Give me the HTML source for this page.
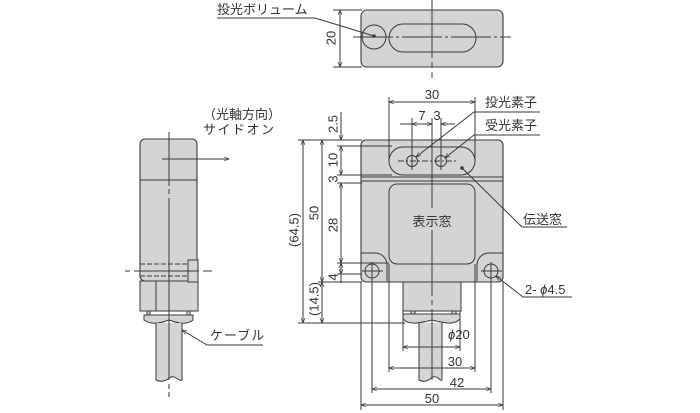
<!DOCTYPE html>
<html><head><meta charset="utf-8">
<style>
html,body{margin:0;padding:0;background:#fff;}
svg{display:block;}
text{font-family:"Liberation Sans","Noto Sans CJK JP",sans-serif;font-size:13px;fill:#333;}
</style></head>
<body>
<svg width="700" height="413" viewBox="0 0 700 413" xmlns="http://www.w3.org/2000/svg">
<defs>
<marker id="a" viewBox="0 0 10 10" refX="10" refY="5" markerWidth="7" markerHeight="5" orient="auto-start-reverse" markerUnits="userSpaceOnUse"><path d="M0,1 L10,5 L0,9" fill="none" stroke="#333" stroke-width="1.3"/></marker>
</defs>
<g stroke="#3a3a3a" stroke-width="1" fill="none">

<!-- ===== TOP VIEW ===== -->
<rect x="361" y="10" width="142" height="57" rx="6" fill="#d4d4d4" stroke-width="1.1"/>
<circle cx="374" cy="37" r="12"/>
<rect x="389" y="24" width="87" height="28" rx="14"/>
<line x1="432" y1="0" x2="432" y2="58"/>
<line x1="432" y1="62" x2="432" y2="80" stroke-dasharray="6,4"/>
<line x1="353" y1="37" x2="511" y2="37" stroke-dasharray="40,3,3,3"/>
<!-- dim 20 -->
<line x1="333" y1="10" x2="362" y2="10"/>
<line x1="333" y1="67" x2="362" y2="67"/>
<line x1="340" y1="10" x2="340" y2="67" marker-start="url(#a)" marker-end="url(#a)"/>
<!-- leader -->
<polyline points="217,18 315,18 374,36"/>
<circle cx="374" cy="36" r="1.3" fill="#333"/>

<!-- ===== SIDE VIEW ===== -->
<rect x="140" y="139" width="57" height="142" rx="5" fill="#d4d4d4" stroke-width="1.1"/>
<line x1="140" y1="180" x2="197" y2="180"/>
<rect x="140" y="281" width="58" height="30" fill="#d4d4d4"/>
<line x1="156" y1="281" x2="156" y2="311"/>
<rect x="188" y="260" width="10" height="22" fill="#d4d4d4"/>
<line x1="140" y1="264" x2="188" y2="264" stroke-dasharray="5,2"/>
<line x1="140" y1="276" x2="188" y2="276" stroke-dasharray="5,2"/>
<line x1="125" y1="271" x2="212" y2="271" stroke-dasharray="5,4,60,0"/>
<rect x="147" y="311" width="3" height="4" fill="#d4d4d4"/>
<rect x="187" y="311" width="3" height="4" fill="#d4d4d4"/>
<path d="M144,315 H193 V320 Q188,324 180,323 Q174,322 169,320 Q164,322 158,323 Q150,324 144,320 Z" fill="#d4d4d4"/>
<path d="M156,323 V380 Q162,383 168,379 Q172,375 176,378 Q180,381 182,380 V323" fill="#d4d4d4"/>
<line x1="169" y1="132" x2="169" y2="186"/>
<line x1="169" y1="189" x2="169" y2="194"/>
<line x1="169" y1="198" x2="169" y2="380"/>
<line x1="169" y1="384" x2="169" y2="397" stroke-dasharray="5,3"/>
<line x1="162" y1="159" x2="229" y2="159" marker-end="url(#a)"/>
<!-- cable leader -->
<polyline points="263,345 207,345 182,330" marker-end="url(#a)"/>

<!-- ===== FRONT VIEW ===== -->
<rect x="361" y="140" width="142" height="142" rx="5" fill="#d4d4d4" stroke-width="1.1"/>
<rect x="389" y="147" width="86" height="28" rx="14"/>
<line x1="361" y1="177" x2="503" y2="177"/>
<line x1="361" y1="181" x2="503" y2="181"/>
<rect x="389" y="184" width="86" height="80" rx="8"/>
<path d="M361,253 H375 A12,12 0 0 1 387,265 V282"/>
<path d="M503,253 H489 A12,12 0 0 0 477,265 V282"/>
<circle cx="372" cy="271" r="7"/>
<circle cx="491" cy="271" r="7"/>
<line x1="362" y1="271" x2="383" y2="271"/>
<line x1="481" y1="271" x2="502" y2="271"/>
<circle cx="412" cy="161" r="5.5"/>
<circle cx="441" cy="161" r="5.5"/>
<line x1="398" y1="161" x2="456" y2="161" stroke-dasharray="6,2,2,2"/>
<circle cx="462" cy="168" r="1.3" fill="#333"/>
<!-- connector -->
<rect x="403" y="282" width="58" height="29" fill="#d4d4d4"/>
<rect x="411" y="311" width="4" height="3" fill="#d4d4d4"/>
<rect x="452" y="311" width="4" height="3" fill="#d4d4d4"/>
<path d="M403,314 H460 V319 Q455,324 447,323 Q439,322 432,320 Q425,322 417,323 Q408,324 403,319 Z" fill="#d4d4d4"/>
<path d="M419,323 V380 Q425,383 430,379 Q434,375 438,378 Q441,381 442,380 V323" fill="#d4d4d4"/>
<!-- centerline -->
<line x1="432" y1="118" x2="432" y2="208"/>
<line x1="432" y1="230" x2="432" y2="296"/>
<line x1="432" y1="300" x2="432" y2="305"/>
<line x1="432" y1="309" x2="432" y2="380"/>

<!-- extension lines top -->
<line x1="389" y1="97" x2="389" y2="160"/>
<line x1="475" y1="97" x2="475" y2="160"/>
<line x1="412" y1="118" x2="412" y2="170"/>
<line x1="441" y1="118" x2="441" y2="170"/>
<!-- dims top -->
<line x1="389" y1="102" x2="475" y2="102" marker-start="url(#a)" marker-end="url(#a)"/>
<line x1="400" y1="124" x2="412" y2="124"/>
<line x1="412" y1="124" x2="432" y2="124" marker-start="url(#a)" marker-end="url(#a)"/>
<line x1="455" y1="124" x2="441" y2="124" marker-end="url(#a)"/>
<!-- leaders right -->
<polyline points="540,112 474,112 416,157" marker-end="url(#a)"/>
<polyline points="540,135 474,135 445,158" marker-end="url(#a)"/>
<polyline points="567,227 522,227 462,168"/>
<polyline points="572,297 523,297 496,276" marker-end="url(#a)"/>

<!-- extension lines left -->
<line x1="298" y1="140" x2="362" y2="140"/>
<line x1="337" y1="146" x2="392" y2="146"/>
<line x1="337" y1="175" x2="392" y2="175"/>
<line x1="337" y1="183" x2="362" y2="183"/>
<line x1="337" y1="263" x2="389" y2="263"/>
<line x1="337" y1="274" x2="362" y2="274"/>
<line x1="318" y1="282" x2="362" y2="282"/>
<line x1="298" y1="323" x2="405" y2="323"/>
<!-- dims left -->
<line x1="303" y1="140" x2="303" y2="323" marker-start="url(#a)" marker-end="url(#a)"/>
<line x1="322" y1="140" x2="322" y2="282" marker-start="url(#a)" marker-end="url(#a)"/>
<line x1="322" y1="282" x2="322" y2="323" marker-start="url(#a)" marker-end="url(#a)"/>
<line x1="341" y1="112" x2="341" y2="140" marker-end="url(#a)"/>
<line x1="341" y1="146" x2="341" y2="175" marker-start="url(#a)" marker-end="url(#a)"/>
<line x1="341" y1="183" x2="341" y2="263" marker-start="url(#a)" marker-end="url(#a)"/>
<line x1="341" y1="263" x2="341" y2="274" marker-start="url(#a)" marker-end="url(#a)"/>
<line x1="341" y1="274" x2="341" y2="283"/>

<!-- extension lines bottom -->
<line x1="361" y1="282" x2="361" y2="410"/>
<line x1="503" y1="282" x2="503" y2="410"/>
<line x1="372" y1="262" x2="372" y2="393"/>
<line x1="491" y1="262" x2="491" y2="393"/>
<line x1="389" y1="264" x2="389" y2="372"/>
<line x1="475" y1="264" x2="475" y2="372"/>
<line x1="403" y1="311" x2="403" y2="351"/>
<line x1="460" y1="311" x2="460" y2="351"/>
<!-- dims bottom -->
<line x1="403" y1="347" x2="460" y2="347" marker-start="url(#a)" marker-end="url(#a)"/>
<line x1="389" y1="368" x2="475" y2="368" marker-start="url(#a)" marker-end="url(#a)"/>
<line x1="372" y1="389" x2="491" y2="389" marker-start="url(#a)" marker-end="url(#a)"/>
<line x1="361" y1="405" x2="503" y2="405" marker-start="url(#a)" marker-end="url(#a)"/>
</g>

<!-- ===== TEXT ===== -->
<text x="217" y="14" font-size="13.5">投光ボリューム</text>
<text transform="translate(331,38) rotate(-90)" text-anchor="middle" dominant-baseline="central">20</text>
<text x="203" y="119">（光軸方向）</text>
<text x="203" y="134" letter-spacing="1.5">サイドオン</text>
<text x="210" y="340" letter-spacing="1">ケーブル</text>

<text x="432" y="99" text-anchor="middle">30</text>
<text x="422" y="120" text-anchor="middle">7</text>
<text x="437" y="120" text-anchor="middle">3</text>
<text x="485" y="107">投光素子</text>
<text x="485" y="130">受光素子</text>
<text x="523" y="224">伝送窓</text>
<text x="525" y="294">2- <tspan font-style="italic">ϕ</tspan>4.5</text>
<text x="432" y="226" text-anchor="middle">表示窓</text>

<text transform="translate(294,230) rotate(-90)" text-anchor="middle" dominant-baseline="central">(64.5)</text>
<text transform="translate(314,213) rotate(-90)" text-anchor="middle" dominant-baseline="central">50</text>
<text transform="translate(314,299) rotate(-90)" text-anchor="middle" dominant-baseline="central">(14.5)</text>
<text transform="translate(333,124) rotate(-90)" text-anchor="middle" dominant-baseline="central">2.5</text>
<text transform="translate(333,160) rotate(-90)" text-anchor="middle" dominant-baseline="central">10</text>
<text transform="translate(333,179) rotate(-90)" text-anchor="middle" dominant-baseline="central">3</text>
<text transform="translate(333,225) rotate(-90)" text-anchor="middle" dominant-baseline="central">28</text>
<text transform="translate(333,277) rotate(-90)" text-anchor="middle" dominant-baseline="central">4</text>

<text x="448" y="339"><tspan font-style="italic">ϕ</tspan>20</text>
<text x="455" y="366" text-anchor="middle">30</text>
<text x="457" y="387" text-anchor="middle">42</text>
<text x="432" y="403" text-anchor="middle">50</text>
</svg>
</body></html>
